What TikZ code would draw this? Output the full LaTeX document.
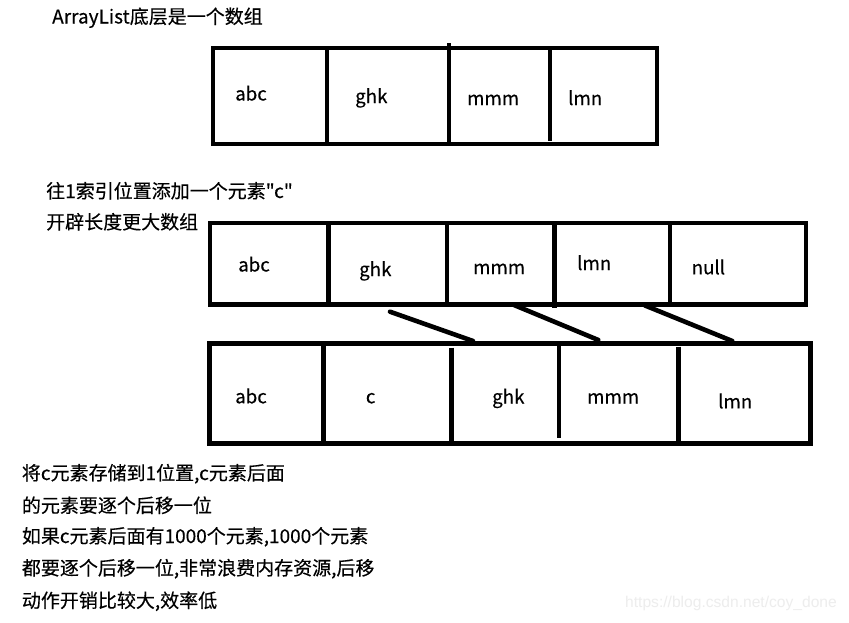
\documentclass[tikz,border=0pt]{standalone}
\usepackage{fontspec}
\setmainfont{Noto Sans CJK SC}[Ligatures=TeXOff,FakeBold=0.3]
\newfontfamily\wmfont{Liberation Sans}
\begin{document}
\begin{tikzpicture}[x=1pt,y=-1pt,
  arr/.style={line width=4.6pt},
  shiftline/.style={line width=4.6pt,line cap=round},
  cell/.style={anchor=base west,inner sep=0pt,font=\fontsize{18.7}{22}\selectfont},
  note/.style={anchor=base west,inner sep=0pt,font=\fontsize{19}{22}\selectfont},
  wm/.style={anchor=base west,inner sep=0pt,text=black!7,font=\wmfont\fontsize{15.6}{18}\selectfont}]
\useasboundingbox[fill=white] (0,0) rectangle (849,622);

% captions
\node[note] (t1) at (52,23.5) {ArrayList底层是一个数组};
\node[note] (t2) at (46,198) {往1索引位置添加一个元素"c"};
\node[note] (t3) at (46,229) {开辟长度更大数组};

% array 1
\draw[arr] (213,48) rectangle (657,144);
\draw[arr] (327,48) -- (327,144);
\draw[arr] (449,43) -- (449,144);
\draw[arr] (550,48) -- (550,141);
\node[cell] (a1) at (235,100.5) {abc};
\node[cell] (a2) at (355,103) {ghk};
\node[cell] (a3) at (467,105) {mmm};
\node[cell] (a4) at (568,105) {lmn};

% array 2
\draw[arr] (210,223) rectangle (806,304.5);
\draw[arr] (328.7,223) -- (328.7,304.5);
\draw[arr] (447,223) -- (447,304.5);
\draw[arr] (554.7,223) -- (554.7,308);
\draw[arr] (670,223) -- (670,304.5);
\node[cell] (b1) at (238,271.5) {abc};
\node[cell] (b2) at (359,276) {ghk};
\node[cell] (b3) at (473,274) {mmm};
\node[cell] (b4) at (577,270) {lmn};
\node[cell] (b5) at (691.5,274.3) {null};

% array 3
\draw[arr] (209.7,343.3) rectangle (810.5,443.7);
\draw[arr] (323.3,343.3) -- (323.3,443.7);
\draw[arr] (451.7,347.7) -- (451.7,443.7);
\draw[arr] (559,343.3) -- (559,437.7);
\draw[arr] (678.3,346.7) -- (678.3,443.7);
\node[cell] (c1) at (235,403.3) {abc};
\node[cell] (c2) at (365.7,403.3) {c};
\node[cell] (c3) at (492,403.5) {ghk};
\node[cell] (c4) at (587,403.5) {mmm};
\node[cell] (c5) at (718,408.3) {lmn};

% shift connectors
\coordinate (s1a) at (390,311.7);
\coordinate (s1b) at (473,341);
\coordinate (s2a) at (514,305);
\coordinate (s2b) at (598.3,340);
\coordinate (s3a) at (645,305.5);
\coordinate (s3b) at (732.3,341);
\draw[shiftline] (s1a) -- (s1b);
\draw[shiftline] (s2a) -- (s2b);
\draw[shiftline] (s3a) -- (s3b);

% explanation
\node[note] (n1) at (21.7,480) {将c元素存储到1位置,c元素后面};
\node[note] (n2) at (21.7,512.5) {的元素要逐个后移一位};
\node[note] (n3) at (21.7,543) {如果c元素后面有1000个元素,1000个元素};
\node[note] (n4) at (21.7,575) {都要逐个后移一位,非常浪费内存资源,后移};
\node[note] (n5) at (21.7,607.5) {动作开销比较大,效率低};

% watermark
\node[wm] (w) at (625,607.7) {https://blog.csdn.net/coy\_done};
\end{tikzpicture}
\end{document}
